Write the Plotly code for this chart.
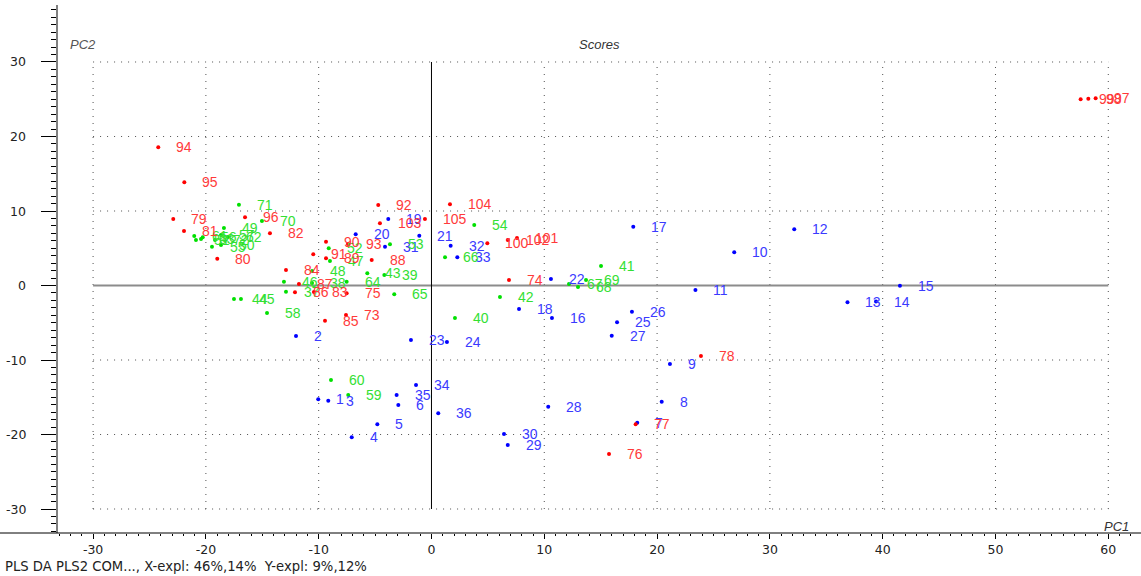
import plotly.graph_objects as go

# PLS-DA score plot: PC1 vs PC2, three classes
blue_ids = [str(i) for i in range(1, 37)]
blue_pc1 = [-10.04, -12.01, -9.15, -7.07, -4.80, -2.94, 18.24, 20.41, 21.14, 26.84,
            23.40, 32.16, 36.88, 39.41, 41.53, 10.68, 17.89, 7.76, -3.83, -6.72,
            -1.08, 10.59, -1.82, 1.37, 16.45, 17.77, 15.98, 10.35, 6.76, 6.43,
            -4.12, 1.70, 2.29, -1.37, -3.09, 0.60]
blue_pc2 = [-15.28, -6.78, -15.46, -20.38, -18.63, -16.04, -18.42, -15.60, -10.54, 4.46,
            -0.60, 7.54, -2.26, -2.15, -0.03, -4.36, 7.89, -3.15, 8.93, 6.87,
            6.68, 0.87, -7.32, -7.58, -4.94, -3.52, -6.74, -16.27, -21.41, -19.93,
            5.21, 5.34, 3.79, -13.36, -14.70, -17.15]

green_ids = [str(i) for i in range(37, 73)]
green_pc1 = [-12.90, -10.59, -4.18, 2.08, 15.03, 6.07, -5.69, -17.51, -16.89, -13.08,
             -9.00, -10.59, -18.40, -18.66, -20.88, -9.11, -3.68, 3.79, -19.46, -20.28,
             -18.66, -14.58, -7.38, -8.91, -21.03, -18.04, -20.43, -7.52, -3.30, 1.20,
             12.19, 12.99, 13.70, -15.03, -17.07, -19.19]
green_pc2 = [-0.83, 0.34, 1.41, -4.36, 2.62, -1.54, 1.64, -1.81, -1.81, 0.51,
             3.29, 1.95, 7.72, 5.44, 6.11, 4.99, 5.53, 8.12, 5.21, 6.47,
             6.78, -3.69, -14.70, -12.68, 6.64, 6.51, 6.24, 0.51, -1.18, 3.79,
             0.20, -0.20, 0.74, 8.66, 10.85, 6.11]

red_ids = [str(i) for i in range(73, 106)]
red_pc1 = [-7.58, 6.87, -7.52, 15.74, 18.10, 23.89, -22.89, -18.99, -21.94, -14.32,
           -10.42, -12.90, -9.44, -12.10, -11.75, -5.30, -9.35, -9.35, -10.48, -4.72,
           -7.40, -24.22, -21.91, -16.53, 58.88, 58.23, 57.55, 4.95, 7.58, 6.76,
           -4.57, 1.64, -0.58]
red_pc2 = [-3.96, 0.74, -1.05, -22.62, -18.63, -9.46, 8.93, 3.60, 7.32, 7.01,
           -0.87, 2.08, -4.72, -0.91, 0.20, 3.42, 3.65, 5.88, 4.19, 10.81,
           5.57, 18.55, 13.85, 9.15, 25.13, 25.07, 24.99, 5.66, 6.38, 6.11,
           8.35, 10.90, 8.93]

x_ticks = list(range(-30, 61, 10))
y_ticks = list(range(-30, 31, 10))

groups = [
    (blue_ids, blue_pc1, blue_pc2, "#0000ff", "#3a3aff"),
    (green_ids, green_pc1, green_pc2, "#00e000", "#33e033"),
    (red_ids, red_pc1, red_pc2, "#ff0000", "#ff3a3a"),
]

AXIS_FONT = "DejaVu Sans, Verdana, sans-serif"
LABEL_FONT = "Liberation Sans, Arial, sans-serif"
PLOT_W = 1083  # plot area width in px (1141 - left margin)

fig = go.Figure()
annotations = []
for ids, xs, ys, dot_col, txt_col in groups:
    fig.add_trace(go.Scatter(
        x=xs, y=ys, mode="markers",
        marker=dict(color=dot_col, size=4, line=dict(width=0)),
        hoverinfo="text", text=ids, showlegend=False,
    ))
    for lab, xv, yv in zip(ids, xs, ys):
        annotations.append(dict(
            x=xv, y=yv, text=lab, showarrow=False, xanchor="left", yanchor="middle",
            xshift=16, font=dict(family=LABEL_FONT, size=14, color=txt_col),
        ))

# y tick labels, set well clear of the long tick marks
for yv in y_ticks:
    annotations.append(dict(
        x=-30 / PLOT_W, xref="paper", y=yv, yref="y", text=str(yv),
        showarrow=False, xanchor="right", yanchor="middle",
        font=dict(family=AXIS_FONT, size=12.5, color="#222222"),
    ))

shapes = []
# dotted grid inside the [-30, 60] x [-30, 30] box
for xv in x_ticks:
    if xv == 0:
        continue
    shapes.append(dict(type="line", xref="x", yref="y", x0=xv, x1=xv, y0=-30, y1=30,
                       line=dict(color="#505050", width=1, dash="1px,6px"), layer="below"))
for yv in y_ticks:
    if yv == 0:
        continue
    shapes.append(dict(type="line", xref="x", yref="y", x0=-30, x1=60, y0=yv, y1=yv,
                       line=dict(color="#505050", width=1, dash="1px,6px"), layer="below"))
# origin lines
shapes.append(dict(type="line", xref="x", yref="y", x0=-30, x1=60, y0=0, y1=0,
                   line=dict(color="#8c8c8c", width=2), layer="below"))
shapes.append(dict(type="line", xref="x", yref="y", x0=0, x1=0, y0=-30, y1=30,
                   line=dict(color="#000000", width=1), layer="below"))
# bottom axis rule across the full width
shapes.append(dict(type="line", xref="paper", yref="paper", x0=-58 / PLOT_W, x1=1, y0=0, y1=0,
                   line=dict(color="#000000", width=1)))

# titles
annotations += [
    dict(text="<i>PC2</i>", xref="paper", yref="y", x=10 / PLOT_W, y=32.3, showarrow=False,
         xanchor="left", yanchor="middle", font=dict(family=LABEL_FONT, size=13, color="#555555")),
    dict(text="<i>Scores</i>", xref="x", yref="y", x=14.9, y=32.3, showarrow=False,
         xanchor="center", yanchor="middle", font=dict(family=LABEL_FONT, size=13, color="#333333")),
    dict(text="<i>PC1</i>", xref="x", yref="y", x=62.0, y=-32.4, showarrow=False,
         xanchor="right", yanchor="middle", font=dict(family=LABEL_FONT, size=13, color="#333333")),
    dict(text="PLS DA PLS2 COM..., X-expl: 46%,14%  Y-expl: 9%,12%", xref="paper", yref="paper",
         x=-55 / PLOT_W, y=-33 / 528, showarrow=False, xanchor="left", yanchor="middle",
         font=dict(family=AXIS_FONT, size=13.2, color="#222222")),
]

fig.update_layout(
    width=1141, height=576,
    margin=dict(l=58, r=0, t=5, b=43),
    paper_bgcolor="white", plot_bgcolor="white",
    shapes=shapes, annotations=annotations,
    xaxis=dict(range=[-33.11, 62.90], tickvals=x_ticks, ticktext=[str(v) for v in x_ticks],
               showgrid=False, zeroline=False,
               showline=False, ticks="outside", ticklen=5, tickcolor="#000000",
               tickfont=dict(family=AXIS_FONT, size=12.5, color="#222222"),
               minor=dict(dtick=1, tick0=0, ticks="outside", ticklen=2, tickcolor="#000000", showgrid=False)),
    yaxis=dict(range=[-33.22, 37.65], tickvals=y_ticks, showticklabels=False, showgrid=False,
               zeroline=False, showline=True, linecolor="#808080", linewidth=2, ticks="outside",
               ticklen=15, tickcolor="#000000",
               minor=dict(dtick=1, tick0=0, ticks="outside", ticklen=5, tickcolor="#000000", showgrid=False)),
)

fig.write_html("out.html")
